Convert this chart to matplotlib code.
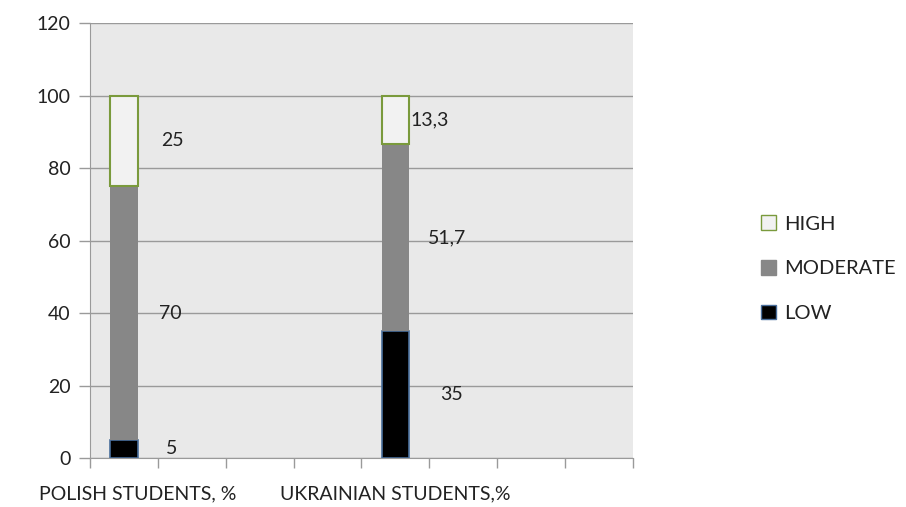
import numpy as np
import matplotlib
matplotlib.use("Agg")
import matplotlib.pyplot as plt
from matplotlib.patches import Patch

plt.rcParams['font.family'] = ['Lato', 'DejaVu Sans']

# data
groups = ['POLISH STUDENTS, %', 'UKRAINIAN STUDENTS,%']
group_slots = [0, 4]          # slot index on the 8-slot category axis
n_slots = 8
low = [5, 35]
moderate = [70, 51.7]
high = [25, 13.3]
low_lbl = ['5', '35']
mod_lbl = ['70', '51,7']
high_lbl = ['25', '13,3']

fs = 14
txt = '#222222'

fig = plt.figure(figsize=(9.06, 5.07), dpi=100)
ax = fig.add_axes([0.0993, 0.0966, 0.5994, 0.858])
ax.set_facecolor('#e9e9e9')

x = np.array(group_slots) + 0.5
w = 0.41
low = np.array(low)
moderate = np.array(moderate)
high = np.array(high)

ax.bar(x, low, w, color='black', edgecolor='#4a6f9c', linewidth=1.2, zorder=3)
ax.bar(x, moderate, w, bottom=low, color='#878787', edgecolor='none', zorder=3)
ax.bar(x, high, w, bottom=low + moderate, color='#f2f2f2', edgecolor='#7a9a3c',
       linewidth=1.5, zorder=3)

# data labels (left aligned, right of the bars)
offs = {'low': [0.62, 0.66], 'mod': [0.52, 0.48], 'high': [0.55, 0.22]}
for i in range(len(x)):
    ax.text(x[i] + offs['low'][i], low[i] / 2, low_lbl[i], fontsize=fs,
            va='center', ha='left', color=txt)
    ax.text(x[i] + offs['mod'][i], low[i] + moderate[i] / 2, mod_lbl[i], fontsize=fs,
            va='center', ha='left', color=txt)
    ax.text(x[i] + offs['high'][i], low[i] + moderate[i] + high[i] / 2, high_lbl[i],
            fontsize=fs, va='center', ha='left', color=txt)

ax.set_xlim(0, n_slots)
ax.set_ylim(0, 120)
ax.set_yticks(np.arange(0, 121, 20))
ax.yaxis.grid(True, color='#9a9a9a', linewidth=1.0, zorder=0)
ax.set_axisbelow(True)

ax.set_xticks(np.arange(0, n_slots + 1))
ax.set_xticklabels([])
ax.tick_params(axis='x', length=7, color='#9a9a9a', width=1)
ax.tick_params(axis='y', length=8, color='#9a9a9a', width=1, labelsize=fs,
               labelcolor=txt, pad=6)

for s in ['top', 'right']:
    ax.spines[s].set_visible(False)
for s in ['left', 'bottom']:
    ax.spines[s].set_color('#9a9a9a')

# category labels
for i, g in enumerate(groups):
    xi = x[i] + (0.2 if i == 0 else 0.0)
    ax.text(xi, -10, g, fontsize=fs, ha='center', va='center', color=txt,
            transform=ax.transData, clip_on=False)

handles = [Patch(facecolor='#f2f2f2', edgecolor='#7a9a3c', label='HIGH'),
           Patch(facecolor='#878787', edgecolor='#878787', label='MODERATE'),
           Patch(facecolor='black', edgecolor='#4a6f9c', label='LOW')]
fig.legend(handles=handles, loc='center left', bbox_to_anchor=(0.82, 0.47),
           frameon=False, fontsize=fs + 0.5, handlelength=0.75, handleheight=0.75,
           handletextpad=0.4, labelspacing=1.35, labelcolor=txt)

fig.savefig('out.png', dpi=100)
